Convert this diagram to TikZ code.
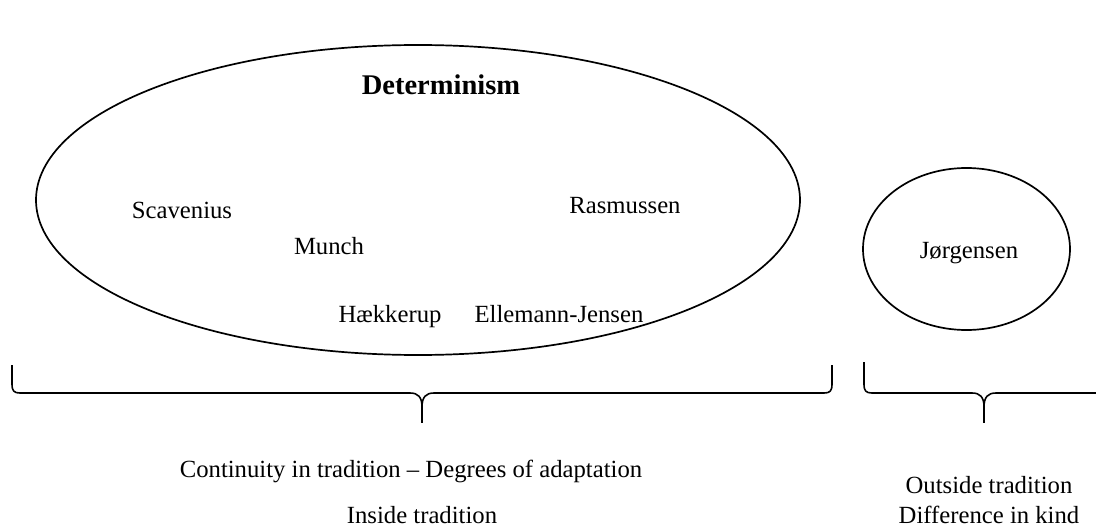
\documentclass[tikz,border=0pt]{standalone}
\usepackage{fontspec}
\setmainfont{Liberation Serif}
\usetikzlibrary{shapes.geometric}
\begin{document}
\begin{tikzpicture}[x=1pt,y=-1pt,
  lbl/.style={anchor=base,inner sep=0pt,font=\fontsize{24.7}{29}\selectfont},
  ttl/.style={anchor=base,inner sep=0pt,font=\fontsize{28.5}{33}\selectfont\bfseries},
  oval/.style={draw,ellipse,line width=1.7pt,inner sep=0pt},
  bline/.style={line width=1.6pt,line join=round}]
\useasboundingbox (0,0) rectangle (1096,527);
\clip (0,0) rectangle (1096,527);

% the two groups
\node[oval,minimum width=764pt,minimum height=310pt] (det) at (418,200) {};
\node[oval,minimum width=207pt,minimum height=162pt] (out) at (966.5,249) {};

% names inside the groups
\node[ttl] (dtitle) at (441,95) {Determinism};
\node[lbl] (scav) at (182,218) {Scavenius};
\node[lbl] (rasm) at (625,213) {Rasmussen};
\node[lbl] (munch) at (329,254) {Munch};
\node[lbl] (haek) at (390,322) {Hækkerup};
\node[lbl] (elle) at (559,322) {Ellemann-Jensen};
\node[lbl] (jorg) at (969,258) {Jørgensen};

% brace under the large group
\coordinate (tipA) at (422,407);
\draw[bline] (12,365) -- (12,384) .. controls (12,391) and (14,393) .. (20,393)
  -- (410,393) .. controls (418,393) and (422,397) .. (tipA)
  .. controls (422,397) and (426,393) .. (434,393)
  -- (824,393) .. controls (830,393) and (832,391) .. (832,384) -- (832,365);
\draw[bline] (tipA) -- (422,423);

% brace under the small group
\coordinate (tipB) at (984,407);
\draw[bline] (864,362) -- (864,384) .. controls (864,391) and (866,393) .. (872,393)
  -- (972,393) .. controls (980,393) and (984,397) .. (tipB)
  .. controls (984,397) and (988,393) .. (996,393) -- (1100,393);
\draw[bline] (tipB) -- (984,423);

% captions
\node[lbl] (cont) at (411,477) {Continuity in tradition -- Degrees of adaptation};
\node[lbl] (inside) at (422,523) {Inside tradition};
\node[lbl] (outside) at (989,493) {Outside tradition};
\node[lbl] (kind) at (989,523) {Difference in kind};
\end{tikzpicture}
\end{document}
